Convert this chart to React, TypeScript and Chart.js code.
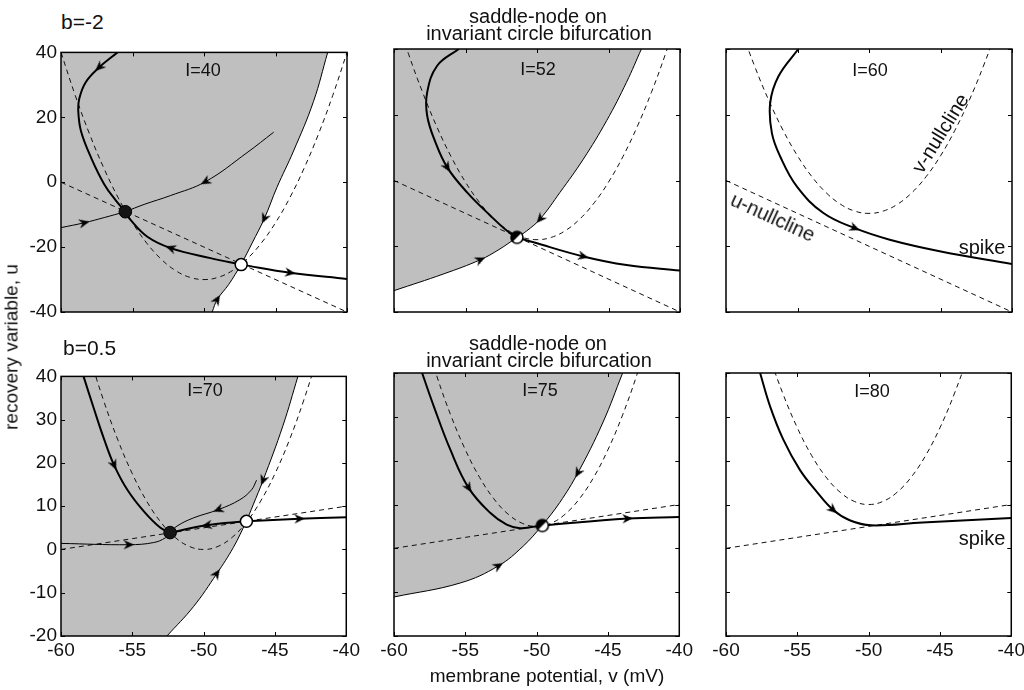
import React, { useEffect, useRef } from "react";
import { Chart, registerables } from "chart.js";
Chart.register(...registerables);

type Pt = [number, number];

const FONT = "'Liberation Sans', Arial, Helvetica, sans-serif";
const GRAY = "rgb(191,191,191)";
const INK = "#111";

// ---------- data ----------
const V_GRID = [-60, -59, -58, -57, -56, -55, -54, -53, -52, -51, -50, -49, -48, -47, -46, -45, -44, -43, -42, -41, -40];

// v-nullclines (u values at V_GRID)
const VNULL_I40 = [40, 26.7, 14.8, 4.3, -4.8, -12.5, -18.8, -23.7, -27.2, -29.3, -30, -29.3, -27.2, -23.7, -18.8, -12.5, -4.8, 4.3, 14.8, 26.7, 40];
const VNULL_I52 = [52, 38.7, 26.8, 16.3, 7.2, -0.5, -6.8, -11.7, -15.2, -17.3, -18, -17.3, -15.2, -11.7, -6.8, -0.5, 7.2, 16.3, 26.8, 38.7, 52];
const VNULL_I60 = [60, 46.7, 34.8, 24.3, 15.2, 7.5, 1.2, -3.7, -7.2, -9.3, -10, -9.3, -7.2, -3.7, 1.2, 7.5, 15.2, 24.3, 34.8, 46.7, 60];
const VNULL_I70 = [70, 56.7, 44.8, 34.3, 25.2, 17.5, 11.2, 6.3, 2.8, 0.7, 0, 0.7, 2.8, 6.3, 11.2, 17.5, 25.2, 34.3, 44.8, 56.7, 70];
const VNULL_I75 = [75, 61.7, 49.8, 39.3, 30.2, 22.5, 16.2, 11.3, 7.8, 5.7, 5, 5.7, 7.8, 11.3, 16.2, 22.5, 30.2, 39.3, 49.8, 61.7, 75];
const VNULL_I80 = [80, 66.7, 54.8, 44.3, 35.2, 27.5, 21.2, 16.3, 12.8, 10.7, 10, 10.7, 12.8, 16.3, 21.2, 27.5, 35.2, 44.3, 54.8, 66.7, 80];

// u-nullclines
const UNULL_BM2: Pt[] = [[-60, 0], [-40, -40]];
const UNULL_B05: Pt[] = [[-60, 0], [-40, 10]];

// tick labels
const X_TICKS = [-60, -55, -50, -45, -40];
const Y_TICKS_TOP = [-40, -20, 0, 20, 40];
const Y_TICKS_BOTTOM = [-20, -10, 0, 10, 20, 30, 40];

// Panel 1: b=-2, I=40
const P1_TOP: Pt[] = [[-56.05, 40], [-57.33, 35.4], [-58.26, 30.9], [-58.72, 25.8], [-58.79, 21.7], [-58.6, 15.7], [-57.9, 7.6], [-56.98, -0.6], [-56.17, -5.6], [-55.5, -9.1]];
const P1_SADDLE_NODE: Pt[] = [[-47.4, -25.4], [-49.55, -23.4], [-52.33, -20.3], [-53.96, -16.8], [-55.12, -11.7], [-55.5, -9.1]];
const P1_SADDLE_OUT: Pt[] = [[-47.4, -25.4], [-43.97, -27.9], [-40, -29.8]];
const P1_THIN_A: Pt[] = [[-45.13, 15.4], [-46.99, 9.1], [-49.9, 0.15], [-52.33, -4.1], [-54.19, -6.85], [-55.5, -9.1]];
const P1_THIN_B: Pt[] = [[-60, -14.0], [-58.37, -12.5], [-56.98, -10.9], [-55.5, -9.1]];
const P1_STABLE_LOW: Pt[] = [[-49.43, -40], [-49.08, -36.2], [-48.27, -31.5], [-47.4, -25.4]];
const P1_STABLE_HIGH: Pt[] = [[-41.35, 40], [-42.35, 24.8], [-43.74, 9.6], [-44.9, -1.6], [-45.78, -11.2], [-46.64, -18.8], [-47.4, -25.4]];
const P1_ARROWS: Pt[] = [[-57.33, 35.4], [-52.33, -20.3], [-43.97, -27.9], [-49.9, 0.15], [-58.37, -12.5], [-49.08, -36.2], [-45.78, -11.2]];
const P1_NODE: Pt[] = [[-55.5, -9.1]];
const P1_SADDLE: Pt[] = [[-47.4, -25.4]];

// Panel 2: b=-2, I=52
const P2_TOP: Pt[] = [[-55.47, 40], [-56.98, 34.9], [-57.68, 26.8], [-57.68, 19.7], [-57.1, 11.6], [-56.28, 4.0], [-54.89, -3.6], [-53.26, -10.7], [-52.1, -15.3], [-51.4, -17.3]];
const P2_OUT: Pt[] = [[-51.4, -17.3], [-50.24, -18.8], [-46.76, -23.1], [-43.74, -25.7], [-40, -27.4]];
const P2_LOW: Pt[] = [[-60, -33.5], [-56.52, -28.4], [-53.96, -24.1], [-52.66, -21.0], [-51.4, -17.3]];
const P2_HIGH: Pt[] = [[-42.7, 40], [-43.74, 29.9], [-45.13, 18.2], [-46.76, 6.5], [-48.39, -3.6], [-49.78, -11.7], [-50.71, -15.3], [-51.4, -17.3]];
const P2_ARROWS: Pt[] = [[-56.28, 4.0], [-46.76, -23.1], [-53.96, -24.1], [-49.78, -11.7]];
const P2_SN: Pt[] = [[-51.4, -17.3]];

// Panel 3: b=-2, I=60
const P3_TRAJ: Pt[] = [[-54.94, 40], [-56.33, 31.7], [-56.91, 23.6], [-56.79, 14.4], [-56.21, 7.3], [-55.05, -1.8], [-53.19, -9.9], [-50.99, -14.5], [-48.55, -18], [-45.06, -21.5], [-40, -25.4]];
const P3_ARROWS: Pt[] = [[-50.99, -14.5]];

// Panel 4: b=0.5, I=70
const P4_TOP: Pt[] = [[-58.42, 40], [-57.68, 32.4], [-56.98, 25.5], [-56.28, 19.5], [-55.35, 13.8], [-54.19, 8.8], [-53.03, 5.0], [-52.35, 3.9]];
const P4_SADDLE_NODE: Pt[] = [[-47.0, 6.5], [-49.78, 5.6], [-52.35, 3.9]];
const P4_OUT: Pt[] = [[-47.0, 6.5], [-43.27, 7.1], [-40, 7.45]];
const P4_THIN_A: Pt[] = [[-46.29, 16.0], [-46.64, 13.8], [-47.46, 11.5], [-48.97, 9.2], [-50.71, 7.3], [-51.87, 5.4], [-52.35, 3.9]];
const P4_THIN_B: Pt[] = [[-60, 1.4], [-55.24, 1.1], [-53.5, 1.6], [-52.68, 2.7], [-52.35, 3.9]];
const P4_LOW: Pt[] = [[-52.57, -20], [-50.71, -13.2], [-49.08, -5.6], [-47.92, 0.45], [-47.0, 6.5]];
const P4_HIGH: Pt[] = [[-43.39, 40], [-44.44, 28.6], [-45.83, 16.0], [-46.53, 10.3], [-47.0, 6.5]];
const P4_ARROWS: Pt[] = [[-56.28, 19.5], [-49.78, 5.6], [-43.27, 7.1], [-48.97, 9.2], [-55.24, 1.1], [-49.08, -5.6], [-45.83, 16.0]];
const P4_NODE: Pt[] = [[-52.35, 3.9]];
const P4_SADDLE: Pt[] = [[-47.0, 6.5]];

// Panel 5: b=0.5, I=75
const P5_TOP: Pt[] = [[-58.03, 40], [-57.21, 32.4], [-56.05, 22.5], [-54.77, 13.8], [-53.26, 8.1], [-52.1, 5.4], [-51.17, 4.6], [-50.24, 4.9], [-49.6, 5.2]];
const P5_OUT: Pt[] = [[-49.6, 5.2], [-43.62, 6.8], [-40, 7.15]];
const P5_LOW: Pt[] = [[-60, -11.1], [-55.35, -7.9], [-52.68, -4.0], [-50.94, 0.5], [-49.6, 5.2]];
const P5_HIGH: Pt[] = [[-43.97, 40], [-45.37, 28.6], [-47.11, 17.2], [-48.39, 10.4], [-49.6, 5.2]];
const P5_ARROWS: Pt[] = [[-54.77, 13.8], [-43.62, 6.8], [-52.68, -4.0], [-47.11, 17.2]];
const P5_SN: Pt[] = [[-49.6, 5.2]];

// Panel 6: b=0.5, I=80
const P6_TRAJ: Pt[] = [[-57.61, 40], [-56.91, 32.4], [-55.98, 24.8], [-54.82, 17.9], [-53.66, 13.0], [-52.5, 8.8], [-51.33, 6.4], [-49.83, 5.25], [-46.22, 5.9], [-40, 6.9]];
const P6_ARROWS: Pt[] = [[-52.5, 8.8]];

// ---------- layout ----------
const PAD_L = 60, PAD_T = 12, PAD_R = 16, PAD_B = 40;
const PW = 286, PH = 263;
const CW = PAD_L + PW + PAD_R, CH = PAD_T + PH + PAD_B;

interface PanelCfg {
  left: number; top: number;
  yMin: number; yMax: number; yTicks: number[];
  showY: boolean; showX: boolean;
  vnull: number[]; unull: Pt[];
  thick: Pt[][]; thin: Pt[][];
  shade?: { low: Pt[]; high: Pt[] };
  arrows: Pt[]; nodes: Pt[]; saddles: Pt[]; sn: Pt[];
}

const PANELS: PanelCfg[] = [
  { left: 61, top: 49, yMin: -40, yMax: 40, yTicks: Y_TICKS_TOP, showY: true, showX: false,
    vnull: VNULL_I40, unull: UNULL_BM2,
    thick: [P1_TOP, P1_SADDLE_NODE, P1_SADDLE_OUT], thin: [P1_THIN_A, P1_THIN_B, P1_STABLE_LOW, P1_STABLE_HIGH],
    shade: { low: P1_STABLE_LOW, high: P1_STABLE_HIGH }, arrows: P1_ARROWS, nodes: P1_NODE, saddles: P1_SADDLE, sn: [] },
  { left: 394, top: 49, yMin: -40, yMax: 40, yTicks: Y_TICKS_TOP, showY: false, showX: false,
    vnull: VNULL_I52, unull: UNULL_BM2,
    thick: [P2_TOP, P2_OUT], thin: [P2_LOW, P2_HIGH],
    shade: { low: P2_LOW, high: P2_HIGH }, arrows: P2_ARROWS, nodes: [], saddles: [], sn: P2_SN },
  { left: 726, top: 49, yMin: -40, yMax: 40, yTicks: Y_TICKS_TOP, showY: false, showX: false,
    vnull: VNULL_I60, unull: UNULL_BM2,
    thick: [P3_TRAJ], thin: [], arrows: P3_ARROWS, nodes: [], saddles: [], sn: [] },
  { left: 61, top: 373, yMin: -20, yMax: 40, yTicks: Y_TICKS_BOTTOM, showY: true, showX: true,
    vnull: VNULL_I70, unull: UNULL_B05,
    thick: [P4_TOP, P4_SADDLE_NODE, P4_OUT], thin: [P4_THIN_A, P4_THIN_B, P4_LOW, P4_HIGH],
    shade: { low: P4_LOW, high: P4_HIGH }, arrows: P4_ARROWS, nodes: P4_NODE, saddles: P4_SADDLE, sn: [] },
  { left: 394, top: 373, yMin: -20, yMax: 40, yTicks: Y_TICKS_BOTTOM, showY: false, showX: true,
    vnull: VNULL_I75, unull: UNULL_B05,
    thick: [P5_TOP, P5_OUT], thin: [P5_LOW, P5_HIGH],
    shade: { low: P5_LOW, high: P5_HIGH }, arrows: P5_ARROWS, nodes: [], saddles: [], sn: P5_SN },
  { left: 726, top: 373, yMin: -20, yMax: 40, yTicks: Y_TICKS_BOTTOM, showY: false, showX: true,
    vnull: VNULL_I80, unull: UNULL_B05,
    thick: [P6_TRAJ], thin: [], arrows: P6_ARROWS, nodes: [], saddles: [], sn: [] },
];

// ---------- helpers ----------
const toXY = (arr: Pt[]) => arr.map(([x, y]) => ({ x, y }));

let arrowImg: HTMLCanvasElement | null = null;
function getArrowImg() {
  if (arrowImg) return arrowImg;
  const c = document.createElement("canvas");
  c.width = 11; c.height = 11;
  const g = c.getContext("2d")!;
  g.fillStyle = "#000";
  g.beginPath();
  g.moveTo(5.5, 0.3);
  g.lineTo(10.2, 10.7);
  g.lineTo(5.5, 7.6);
  g.lineTo(0.8, 10.7);
  g.closePath();
  g.fill();
  arrowImg = c;
  return c;
}

let snImg: HTMLCanvasElement | null = null;
function getSnImg() {
  if (snImg) return snImg;
  const c = document.createElement("canvas");
  c.width = 16; c.height = 16;
  const g = c.getContext("2d")!;
  const cx = 8, cy = 8, r = 6;
  g.fillStyle = "#fff";
  g.beginPath(); g.arc(cx, cy, r, 0, Math.PI * 2); g.fill();
  g.fillStyle = "#000";
  g.beginPath(); g.moveTo(cx, cy); g.arc(cx, cy, r, Math.PI * 0.75, Math.PI * 1.75); g.closePath(); g.fill();
  g.strokeStyle = "#000"; g.lineWidth = 1.6;
  g.beginPath(); g.arc(cx, cy, r, 0, Math.PI * 2); g.stroke();
  snImg = c;
  return c;
}

function arrowAngle(c: any, trajs: Pt[][]) {
  const chart = c.chart;
  const raw = c.raw;
  if (!raw) return 0;
  const xs = chart.scales.x, ys = chart.scales.y;
  const px = xs.getPixelForValue(raw.x), py = ys.getPixelForValue(raw.y);
  if (!isFinite(px) || !isFinite(py)) return 0;
  let best = Infinity; let dir: [number, number] = [1, 0];
  for (const t of trajs) {
    const pts = t.map(([v, u]) => [xs.getPixelForValue(v), ys.getPixelForValue(u)]);
    for (let i = 0; i < pts.length; i++) {
      const d = Math.hypot(pts[i][0] - px, pts[i][1] - py);
      if (d < 1.5 && d < best) {
        const a = pts[Math.max(0, i - 1)], b = pts[Math.min(pts.length - 1, i + 1)];
        best = d; dir = [b[0] - a[0], b[1] - a[1]];
      }
    }
    for (let i = 0; i < pts.length - 1; i++) {
      const [ax, ay] = pts[i], [bx, by] = pts[i + 1];
      const vx = bx - ax, vy = by - ay;
      const L = vx * vx + vy * vy || 1;
      let s = ((px - ax) * vx + (py - ay) * vy) / L;
      s = Math.max(0, Math.min(1, s));
      const d = Math.hypot(ax + s * vx - px, ay + s * vy - py) + 0.5;
      if (d < best) { best = d; dir = [vx, vy]; }
    }
  }
  return (Math.atan2(dir[0], -dir[1]) * 180) / Math.PI;
}

const framePlugin = {
  id: "frame",
  afterDatasetsDraw(chart: any) {
    const { ctx, chartArea: a, scales } = chart;
    ctx.save();
    ctx.strokeStyle = "#000";
    ctx.lineWidth = 1;
    ctx.beginPath();
    for (const t of scales.x.ticks) {
      const px = Math.round(scales.x.getPixelForValue(t.value)) + 0.5;
      ctx.moveTo(px, a.bottom); ctx.lineTo(px, a.bottom - 4);
      ctx.moveTo(px, a.top); ctx.lineTo(px, a.top + 4);
    }
    for (const t of scales.y.ticks) {
      const py = Math.round(scales.y.getPixelForValue(t.value)) + 0.5;
      ctx.moveTo(a.left, py); ctx.lineTo(a.left + 4, py);
      ctx.moveTo(a.right, py); ctx.lineTo(a.right - 4, py);
    }
    ctx.stroke();
    ctx.lineWidth = 1.5;
    ctx.strokeRect(a.left, a.top, a.right - a.left, a.bottom - a.top);
    ctx.restore();
  },
};

function buildConfig(p: PanelCfg): any {
  const trajs = [...p.thick, ...p.thin];
  const datasets: any[] = [];
  const lineBase = { showLine: true, pointRadius: 0, tension: 0.4, capBezierPoints: false, clip: 0, fill: false };

  // points (top)
  if (p.nodes.length)
    datasets.push({ data: toXY(p.nodes), showLine: false, pointRadius: 6.3, pointBackgroundColor: "#151515", pointBorderColor: "#000", pointBorderWidth: 1, order: 0, clip: 0 });
  if (p.saddles.length)
    datasets.push({ data: toXY(p.saddles), showLine: false, pointRadius: 6, pointBackgroundColor: "#fff", pointBorderColor: "#000", pointBorderWidth: 1.5, order: 0, clip: 0 });
  if (p.sn.length)
    datasets.push({ data: toXY(p.sn), showLine: false, pointRadius: 6, pointStyle: getSnImg(), order: 0, clip: 0 });

  // arrows
  datasets.push({
    data: toXY(p.arrows), showLine: false, pointRadius: 5, pointStyle: getArrowImg(),
    pointRotation: (c: any) => arrowAngle(c, trajs), order: 1, clip: 0,
  });

  for (const t of p.thick)
    datasets.push({ ...lineBase, data: toXY(t), borderColor: "#000", borderWidth: 2, order: 3 });
  for (const t of p.thin)
    datasets.push({ ...lineBase, data: toXY(t), borderColor: "#000", borderWidth: 1, order: 4 });

  // nullclines
  datasets.push({ ...lineBase, data: V_GRID.map((v, i) => ({ x: v, y: p.vnull[i] })), borderColor: INK, borderWidth: 1, borderDash: [5, 4], order: 5 });
  datasets.push({ ...lineBase, tension: 0, data: toXY(p.unull), borderColor: INK, borderWidth: 1, borderDash: [5, 4], order: 5 });

  // shaded attraction domain (region left of the saddle's stable manifold)
  if (p.shade) {
    const low = p.shade.low, high = p.shade.high;
    let pad: Pt[] = [];
    if (low[0][0] > -60) {
      // helper points outside the plot area that continue the first segment, so the fill edge follows the manifold
      const ext: Pt = [2 * low[0][0] - low[1][0], 2 * low[0][1] - low[1][1]];
      pad = [[-60, ext[1]], ext];
    }
    const boundary: Pt[] = [...pad, ...low, ...high.slice(0, -1).reverse()];
    datasets.push({ ...lineBase, data: toXY(boundary), borderColor: "rgba(0,0,0,0)", borderWidth: 0, backgroundColor: GRAY, fill: "end", order: 10 });
  }

  return {
    type: "line",
    data: { datasets },
    plugins: [framePlugin],
    options: {
      responsive: false,
      animation: false,
      events: [],
      devicePixelRatio: 1,
      layout: { padding: { left: 0, top: PAD_T, right: PAD_R, bottom: 0 } },
      elements: { line: { capBezierPoints: false } },
      plugins: { legend: { display: false }, tooltip: { enabled: false }, title: { display: false } },
      scales: {
        x: {
          type: "linear", min: -60, max: -40,
          grid: { display: false, drawTicks: false }, border: { display: false },
          afterBuildTicks: (s: any) => { s.ticks = X_TICKS.map((v) => ({ value: v })); },
          afterFit: (s: any) => { s.height = PAD_B; },
          ticks: { display: p.showX, autoSkip: false, maxRotation: 0, padding: 3, color: INK, font: { size: 19, family: FONT } },
        },
        y: {
          type: "linear", min: p.yMin, max: p.yMax,
          grid: { display: false, drawTicks: false }, border: { display: false },
          afterBuildTicks: (s: any) => { s.ticks = p.yTicks.map((v) => ({ value: v })); },
          afterFit: (s: any) => { s.width = PAD_L; },
          ticks: { display: p.showY, autoSkip: false, padding: 4, color: INK, font: { size: 19, family: FONT } },
        },
      },
    },
  };
}

function Panel({ p }: { p: PanelCfg }) {
  const ref = useRef<HTMLCanvasElement>(null);
  useEffect(() => {
    const chart = new Chart(ref.current!, buildConfig(p));
    return () => chart.destroy();
  }, []);
  return (
    <canvas
      ref={ref}
      width={CW}
      height={CH}
      style={{ position: "absolute", left: p.left - PAD_L, top: p.top - PAD_T, width: CW, height: CH }}
    />
  );
}

function Txt({ x, y, size, rot = 0, anchor = "center", children }: { x: number; y: number; size: number; rot?: number; anchor?: string; children: React.ReactNode }) {
  const tx = anchor === "left" ? "0" : "-50%";
  return (
    <div
      style={{
        position: "absolute", left: x, top: y, fontSize: size, lineHeight: 1, whiteSpace: "nowrap",
        fontFamily: FONT, color: INK, transform: `translate(${tx},-50%) rotate(${rot}deg)`,
      }}
    >
      {children}
    </div>
  );
}

export default function App() {
  return (
    <div style={{ position: "absolute", left: 0, top: 0, width: 1024, height: 690, overflow: "hidden", background: "#fff" }}>
      {PANELS.map((p, i) => (
        <Panel key={i} p={p} />
      ))}
      <Txt x={61} y={21} size={21} anchor="left">b=-2</Txt>
      <Txt x={63} y={347} size={21} anchor="left">b=0.5</Txt>
      <Txt x={538} y={16} size={20}>saddle-node on</Txt>
      <Txt x={539} y={33} size={20}>invariant circle bifurcation</Txt>
      <Txt x={538} y={343} size={20}>saddle-node on</Txt>
      <Txt x={539} y={360} size={20}>invariant circle bifurcation</Txt>
      <Txt x={203} y={70} size={18}>I=40</Txt>
      <Txt x={538} y={69} size={18}>I=52</Txt>
      <Txt x={870} y={70} size={18}>I=60</Txt>
      <Txt x={205} y={390} size={18}>I=70</Txt>
      <Txt x={540} y={390} size={18}>I=75</Txt>
      <Txt x={872} y={391} size={18}>I=80</Txt>
      <Txt x={773} y={217} size={20} rot={24.7}>u-nullcline</Txt>
      <Txt x={940} y={133} size={20} rot={-58}>v-nullcline</Txt>
      <Txt x={982} y={247} size={20}>spike</Txt>
      <Txt x={982} y={538} size={20}>spike</Txt>
      <Txt x={11} y={347} size={19} rot={-90}>recovery variable, u</Txt>
      <Txt x={547} y={675} size={19}>membrane potential, v (mV)</Txt>
    </div>
  );
}
